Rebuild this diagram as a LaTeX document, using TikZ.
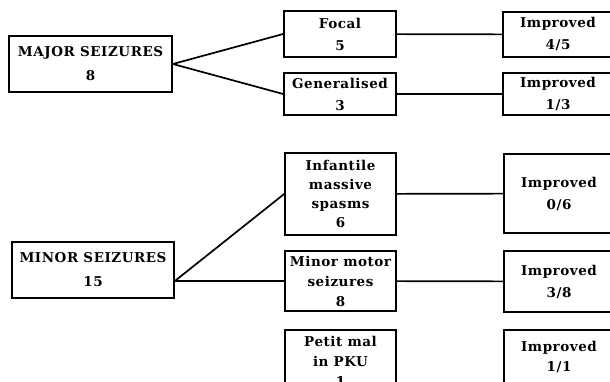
\documentclass[tikz,border=0pt]{standalone}
\usepackage{fontspec}
\setmainfont{DejaVu Serif}
\newfontfamily\chartfont{DejaVu Serif}[LetterSpace=4]
\tikzset{
  box/.style={draw, line width=1.7pt, align=center, inner sep=0pt,
    font=\chartfont\bfseries\fontsize{13.5}{22}\selectfont},
  link/.style={line width=1.7pt},
}
\begin{document}
\begin{tikzpicture}[x=1pt,y=-1pt]
		\clip (0,0) rectangle (610,382);
		% left column
		\node[box, minimum width=163pt, minimum height=56pt] (major) at (90.5,64) {MAJOR SEIZURES\\[2pt]8};
		\node[box, minimum width=162pt, minimum height=56pt] (minor) at (93,270) {MINOR SEIZURES\\[2pt]15};
		% middle column
		\node[box, minimum width=112pt, minimum height=46pt] (focal) at (340,34) {Focal\\5};
		\node[box, minimum width=112pt, minimum height=42pt] (general) at (340,94) {Generalised\\3};
		\node[box, minimum width=111pt, minimum height=82pt, font=\chartfont\bfseries\fontsize{13.5}{19}\selectfont] (infantile) at (340.5,194) {Infantile\\massive\\spasms\\6};
		\node[box, minimum width=111pt, minimum height=60pt, font=\chartfont\bfseries\fontsize{13.5}{20}\selectfont] (motor) at (340.5,281) {Minor motor\\seizures\\8};
		\node[box, minimum width=111pt, minimum height=62pt, font=\chartfont\bfseries\fontsize{13.5}{20}\selectfont] (petit) at (340.5,361) {Petit mal\\in PKU\\1};
		% right column
		\node[box, minimum width=110pt, minimum height=45pt] (imp focal) at (558,34.5) {Improved\\4/5};
		\node[box, minimum width=110pt, minimum height=42pt] (imp general) at (558,94) {Improved\\1/3};
		\node[box, minimum width=110pt, minimum height=79pt] (imp infantile) at (559,193.5) {Improved\\0/6};
		\node[box, minimum width=110pt, minimum height=61pt] (imp motor) at (559,281.5) {Improved\\3/8};
		\node[box, minimum width=110pt, minimum height=54pt, font=\chartfont\bfseries\fontsize{13.5}{20}\selectfont] (imp petit) at (559,357) {Improved\\1/1};
		% connectors
		\coordinate (fork) at (minor.east |- motor.west);
		\draw[link] (major.east) -- (focal.west);
		\draw[link] (major.east) -- (general.west);
		\draw[link] (fork) -- (infantile.west);
		\draw[link] (fork) -- (motor.west);
		\draw[link] (focal) -- (imp focal);
		\draw[link] (general) -- (imp general);
		\draw[link] (infantile) -- (imp infantile);
		\draw[link] (motor) -- (imp motor);
	\end{tikzpicture}
\end{document}
